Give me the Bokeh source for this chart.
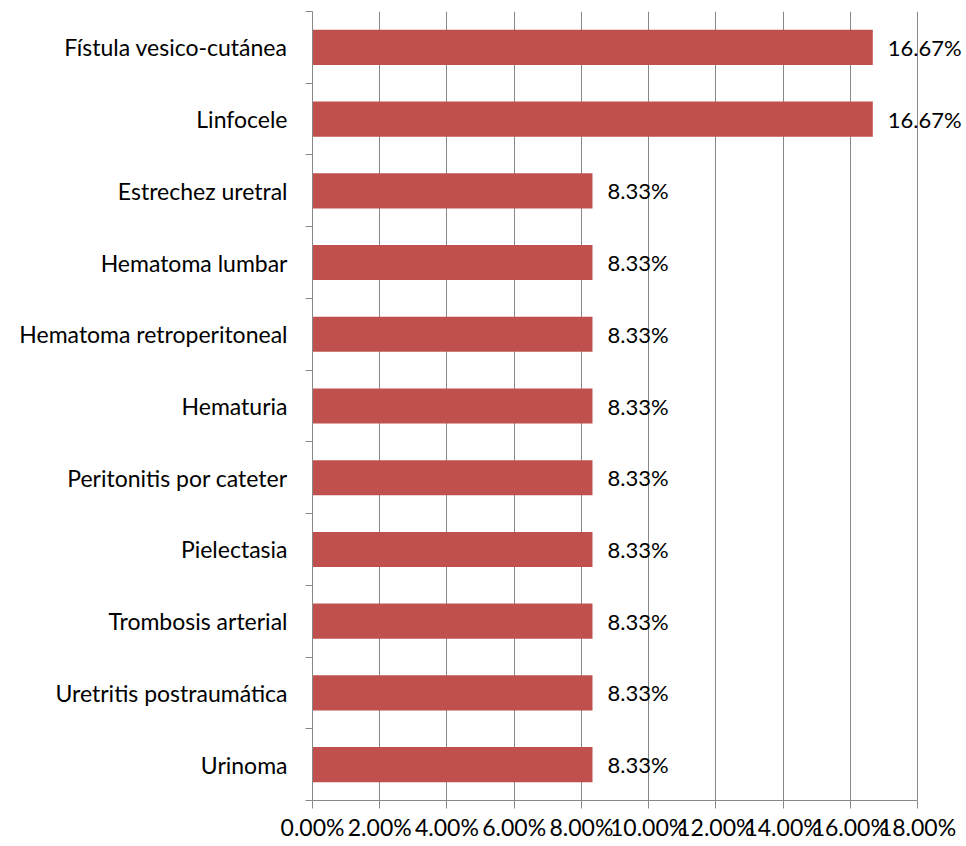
from bokeh.plotting import figure
from bokeh.models import ColumnDataSource, FixedTicker, NumeralTickFormatter, LabelSet, Range1d
from bokeh.core.properties import value
from bokeh.embed import file_html
from bokeh.resources import INLINE

categories = [
    "Fístula vesico-cutánea",
    "Linfocele",
    "Estrechez uretral",
    "Hematoma lumbar",
    "Hematoma retroperitoneal",
    "Hematuria",
    "Peritonitis por cateter",
    "Pielectasia",
    "Trombosis arterial",
    "Uretritis postraumática",
    "Urinoma",
]
values = [0.1667, 0.1667, 0.0833, 0.0833, 0.0833, 0.0833, 0.0833, 0.0833, 0.0833, 0.0833, 0.0833]
x_ticks = [0.0, 0.02, 0.04, 0.06, 0.08, 0.10, 0.12, 0.14, 0.16, 0.18]

FONT = "Lato"
FS = "23px"
GRAY = "#888888"
BAR = "#C0504D"

n = len(categories)
ypos = [n - 1 - i + 0.5 for i in range(n)]
labels = ["%.2f%%" % (v * 100) for v in values]
src = ColumnDataSource(dict(y=ypos, v=values, cat=categories, lab=labels))

XMAX = 0.18
FRAME_W = 652
XEND = XMAX * FRAME_W / 605.0
p = figure(frame_width=FRAME_W, frame_height=789, output_backend="svg", toolbar_location=None,
           x_range=Range1d(0, XEND), y_range=Range1d(0, n),
           min_border_left=312, min_border_right=0, min_border_top=11, min_border_bottom=20)
p.outline_line_color = None
p.background_fill_color = "white"
p.border_fill_color = "white"

p.hbar(y="y", right="v", left=0, height=0.49, source=src, fill_color=BAR, line_color=None)

ls = LabelSet(x="v", y="y", text="lab", source=src, x_offset=15, text_baseline="middle",
              text_font=value(FONT), text_font_size="22px", text_color="black")
p.add_layout(ls)

# x axis
p.xaxis.ticker = FixedTicker(ticks=x_ticks, minor_ticks=[])
p.xaxis.bounds = (0, XMAX)
p.xaxis.formatter = NumeralTickFormatter(format="0.00%")
p.xaxis.axis_line_color = GRAY
p.xaxis.major_tick_line_color = GRAY
p.xaxis.major_tick_in = 0
p.xaxis.major_tick_out = 8
p.xaxis.minor_tick_line_color = None
p.xaxis.major_label_text_font = FONT
p.xaxis.major_label_text_font_size = FS
p.xaxis.major_label_text_color = "black"
p.xaxis.major_label_standoff = 4

# y axis: labels at centers, ticks at boundaries
p.yaxis.ticker = FixedTicker(ticks=ypos, minor_ticks=[float(b) for b in range(n + 1)])
p.yaxis.major_label_overrides = {y: c for y, c in zip(ypos, categories)}
p.yaxis.axis_line_color = GRAY
p.yaxis.major_tick_in = 0
p.yaxis.major_tick_out = 0
p.yaxis.minor_tick_line_color = GRAY
p.yaxis.minor_tick_in = 0
p.yaxis.minor_tick_out = 7
p.yaxis.major_label_text_font = FONT
p.yaxis.major_label_text_font_size = FS
p.yaxis.major_label_text_color = "black"
p.yaxis.major_label_standoff = 18

p.xgrid.ticker = FixedTicker(ticks=x_ticks)
p.xgrid.bounds = (0, XMAX)
p.xgrid.grid_line_color = GRAY
p.ygrid.grid_line_color = None

open("out.html", "w").write(file_html(p, INLINE))
